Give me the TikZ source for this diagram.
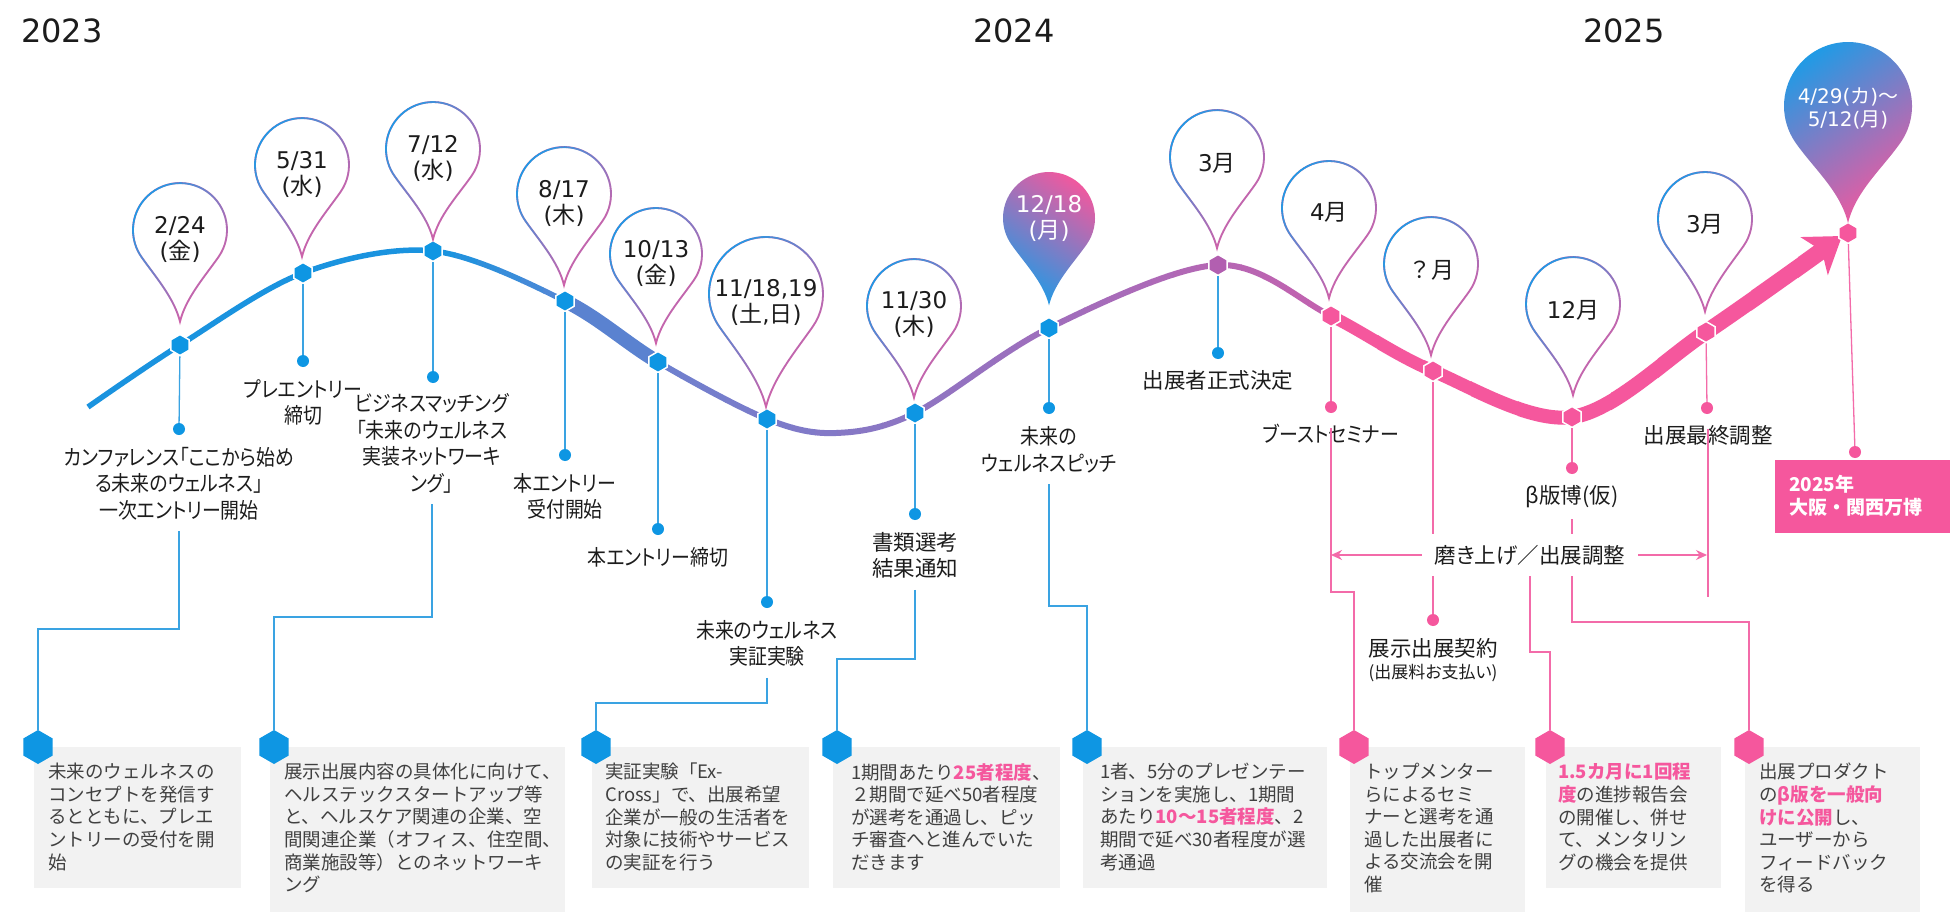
\documentclass[tikz,border=0pt]{standalone}
\usepackage{fontspec}
\setmainfont{Noto Sans CJK JP}
\newfontfamily\jp{Noto Sans CJK JP}
\newfontfamily\jpp[RawFeature=+palt]{Noto Sans CJK JP}
\newfontfamily\jpk[RawFeature=+palt, FakeStretch=0.88]{Noto Sans CJK JP}
\newfontfamily\dv{DejaVu Sans}
\usetikzlibrary{arrows.meta,shapes.geometric,fadings}

\definecolor{cA}{HTML}{1A93DF}
\definecolor{cB}{HTML}{4E88D6}
\definecolor{cC}{HTML}{5A82D0}
\definecolor{cD}{HTML}{6F80CE}
\definecolor{cE}{HTML}{C262AF}
\definecolor{cblue}{HTML}{0E96E3}
\definecolor{lblue}{HTML}{3AA3E2}
\definecolor{cpink}{HTML}{F5579D}
\definecolor{lpink}{HTML}{F36BA9}
\definecolor{cpurp}{HTML}{B25FB0}
\definecolor{boxgray}{HTML}{F2F2F2}
\definecolor{boxtext}{HTML}{404040}
\definecolor{labcol}{HTML}{1C1C1C}
\definecolor{pblue}{HTML}{1E9BE6}
\definecolor{ppink}{HTML}{F0589F}
\definecolor{fbA}{HTML}{1E9BE6}
\definecolor{fbM}{HTML}{B585CC}
\definecolor{fbD}{HTML}{F5579D}
\definecolor{fpA}{HTML}{F5579D}
\definecolor{fpM}{HTML}{A486D4}
\definecolor{fpC}{HTML}{1E9BE6}

\tikzfading[name=pinfade, top color=transparent!0, middle color=transparent!60, bottom color=transparent!100]

\newcommand\pinpath[2]{(0,{-#2*#1}) .. controls ({0.12*#1},{-(#2-0.5)*#1}) and ({0.532*#1},{-0.983*#1}) .. ({0.819*#1},{-0.574*#1}) arc[start angle=-35,end angle=215,radius=#1] .. controls ({-0.532*#1},{-0.983*#1}) and ({-0.12*#1},{-(#2-0.5)*#1}) .. (0,{-#2*#1}) -- cycle}
\newcommand\pinout[4]{%
 \begin{scope}[shift={(#1,#2)}]
  \draw[ppink, line width=1.8pt] \pinpath{#3}{#4};
  \draw[pblue, line width=1.8pt, path fading=pinfade, fading angle=45] \pinpath{#3}{#4};
 \end{scope}}
\newcommand\curvepath{plot[smooth,tension=0.55] coordinates {(88,-407) (180,-345) (303,-273) (433,-251) (565,-301) (658,-362) (767,-419) (836,-433) (915,-413) (1049,-328) (1218,-265) (1331,-316) (1433,-371) (1572,-417) (1706,-332) (1842,-236)}}
\newcommand\dd[2]{{\dv #1}\\{\dv(}#2{\dv)}}
\newcommand\hl[1]{{\bfseries\color{cpink}#1}}
\newcommand\expofont{\jp\bfseries\fontsize{19}{23}\selectfont}

\tikzset{
 hexs/.style={regular polygon, regular polygon sides=6, shape border rotate=30, minimum size=21pt, inner sep=0pt, draw=white, line width=1.5pt},
 hexb/.style={regular polygon, regular polygon sides=6, shape border rotate=30, minimum size=34pt, inner sep=0pt},
 dotn/.style={circle, minimum size=12pt, inner sep=0pt},
 lab/.style={font={\jpp\fontsize{21.5}{26.5}\selectfont}, align=center, inner xsep=2pt, inner ysep=11pt, text=labcol},
 labk/.style={lab, font={\jpk\fontsize{21.5}{26.5}\selectfont}},
 vlb/.style={lblue, line width=1.3pt},
 vlp/.style={lpink, line width=1.3pt},
 boxbg/.style={fill=boxgray, anchor=north west, inner sep=0pt},
 boxt/.style={font={\jp\fontsize{18.5}{22.6}\selectfont}, text=boxtext, align=left, anchor=north west, inner sep=0pt},
 pint/.style={align=center, inner sep=0pt, font={\fontsize{23}{26}\selectfont}, text=labcol},
 yr/.style={anchor=base west, font={\dv\fontsize{32}{38}\selectfont}, text=labcol, inner sep=0pt},
}

\begin{document}
\begin{tikzpicture}[x=1pt,y=1pt]
\useasboundingbox (0,0) rectangle (1950,-912);
\fill[white] (0,0) rectangle (1950,-912);

% years
\node[yr] (y23) at (21,-43) {2023};
\node[yr] (y24) at (973,-43) {2024};
\node[yr] (y25) at (1583,-43) {2025};

% ---------- curve ----------
\begin{scope}\clip (80,-150) rectangle (434,-520); \draw[line width=5.5pt, cA] \curvepath; \end{scope}
\foreach \i in {0,...,5}{
 \pgfmathsetmacro\sxa{433+\i*22}
 \pgfmathsetmacro\sxb{\sxa+22.6}
 \pgfmathsetmacro\spp{100-\i*20}
 \begin{scope}\clip (\sxa,-150) rectangle (\sxb,-520); \draw[line width=5.5pt, cA!\spp!cB] \curvepath; \end{scope}
}
\begin{scope}\clip (565,-150) rectangle (658,-520); \draw[line width=14pt, cC] \curvepath; \end{scope}
\foreach \i in {0,...,29}{
 \pgfmathsetmacro\sxa{658+\i*22.43}
 \pgfmathsetmacro\sxb{\sxa+23}
 \pgfmathsetmacro\spp{100-\i*100/29}
 \begin{scope}\clip (\sxa,-150) rectangle (\sxb,-520); \draw[line width=6pt, cD!\spp!cE] \curvepath; \end{scope}
}
\foreach \i in {0,...,9}{
 \pgfmathsetmacro\sxa{1331+\i*46.7}
 \pgfmathsetmacro\sxb{\sxa+47.5}
 \pgfmathsetmacro\sw{12+0.5*\i}
 \begin{scope}\clip (\sxa,-150) rectangle (\sxb,-520); \draw[line width=\sw pt, cpink] \curvepath; \end{scope}
}
\begin{scope}\clip (1798,-150) rectangle (1900,-330);
 \draw[line width=17pt, cpink, -{Stealth[length=34pt, width=46pt, inset=9pt]}] \curvepath;
\end{scope}

% ---------- curve hexagons ----------
\node[hexs, fill=cblue] (h1) at (180,-345) {};
\node[hexs, fill=cblue] (h2) at (303,-273) {};
\node[hexs, fill=cblue] (h3) at (433,-251) {};
\node[hexs, fill=cblue] (h4) at (565,-301) {};
\node[hexs, fill=cblue] (h5) at (658,-362) {};
\node[hexs, fill=cblue] (h6) at (767,-419) {};
\node[hexs, fill=cblue] (h7) at (915,-413) {};
\node[hexs, fill=cblue] (h8) at (1049,-328) {};
\node[hexs, fill=cpurp] (h9) at (1218,-265) {};
\node[hexs, fill=cpink] (h10) at (1331,-316) {};
\node[hexs, fill=cpink] (h11) at (1433,-371) {};
\node[hexs, fill=cpink] (h12) at (1572,-417) {};
\node[hexs, fill=cpink] (h13) at (1706,-332) {};
\node[hexs, fill=cpink] (h14) at (1848,-233) {};

% ---------- dots ----------
\node[dotn, fill=cblue] (d1) at (179,-429) {};
\node[dotn, fill=cblue] (d2) at (303,-361) {};
\node[dotn, fill=cblue] (d3) at (433,-377) {};
\node[dotn, fill=cblue] (d4) at (565,-455) {};
\node[dotn, fill=cblue] (d5) at (658,-529) {};
\node[dotn, fill=cblue] (d6) at (767,-602) {};
\node[dotn, fill=cblue] (d7) at (915,-514) {};
\node[dotn, fill=cblue] (d8) at (1049,-408) {};
\node[dotn, fill=cblue] (d9) at (1218,-353) {};
\node[dotn, fill=cpink] (d10) at (1331,-407) {};
\node[dotn, fill=cpink] (d11) at (1433,-620) {};
\node[dotn, fill=cpink] (d12) at (1572,-468) {};
\node[dotn, fill=cpink] (d13) at (1707,-408) {};
\node[dotn, fill=cpink] (d14) at (1855,-452) {};

\foreach \k in {1,...,9}{\draw[vlb] (h\k) -- (d\k);}
\foreach \k in {10,...,14}{\draw[vlp] (h\k) -- (d\k);}

% ---------- labels ----------
\node[labk] (lab1) at (179,-483.5) {カンファレンス「ここから始め\\る未来のウェルネス」\\一次エントリー開始};
\node[labk] (lab2) at (303,-402.5) {プレエントリー\\締切};
\node[labk] (lab3) at (432,-443.5) {ビジネスマッチング\\「未来のウェルネス\\実装ネットワーキ\\ング」};
\node[labk] (lab4) at (565,-496.5) {本エントリー\\受付開始};
\node[labk] (lab5) at (658,-557) {本エントリー締切};
\node[labk] (lab6) at (767,-643.5) {未来のウェルネス\\実証実験};
\node[lab] (lab7) at (915,-555.5) {書類選考\\結果通知};
\node[labk] (lab8) at (1049,-450) {未来の\\ウェルネスピッチ};
\node[lab] (lab9) at (1218,-380) {出展者正式決定};
\node[labk] (lab10) at (1331,-434) {ブーストセミナー};
\node[lab] (lab11) at (1433,-648) {展示出展契約};
\node[lab, font={\jpp\fontsize{17}{20}\selectfont}] (lab11b) at (1433,-673) {(出展料お支払い)};
\node[lab] (lab12) at (1572,-497) {β版博(仮)};
\node[lab] (lab13) at (1708,-435) {出展最終調整};

% ---------- boxes ----------
\node[boxbg, minimum width=207pt, minimum height=141pt] (b1) at (34,-747) {};
\node[boxbg, minimum width=295pt, minimum height=165pt] (b2) at (270,-747) {};
\node[boxbg, minimum width=217pt, minimum height=141pt] (b3) at (592,-747) {};
\node[boxbg, minimum width=227pt, minimum height=141pt] (b4) at (833,-747) {};
\node[boxbg, minimum width=244pt, minimum height=141pt] (b5) at (1083,-747) {};
\node[boxbg, minimum width=175pt, minimum height=165pt] (b6) at (1350,-747) {};
\node[boxbg, minimum width=175pt, minimum height=141pt] (b7) at (1546,-747) {};
\node[boxbg, minimum width=175pt, minimum height=165pt] (b8) at (1745,-747) {};

\node[hexb, fill=cblue] (bh1) at (38,-747) {};
\node[hexb, fill=cblue] (bh2) at (274,-747) {};
\node[hexb, fill=cblue] (bh3) at (596,-747) {};
\node[hexb, fill=cblue] (bh4) at (837,-747) {};
\node[hexb, fill=cblue] (bh5) at (1087,-747) {};
\node[hexb, fill=cpink] (bh6) at (1354,-747) {};
\node[hexb, fill=cpink] (bh7) at (1550,-747) {};
\node[hexb, fill=cpink] (bh8) at (1749,-747) {};

\node[boxt] (bt1) at (48,-763) {未来のウェルネスの\\コンセプトを発信す\\るとともに、プレエ\\ントリーの受付を開\\始};
\node[boxt] (bt2) at (284,-763) {展示出展内容の具体化に向けて、\\ヘルステックスタートアップ等\\と、ヘルスケア関連の企業、空\\間関連企業（オフィス、住空間、\\商業施設等）とのネットワーキ\\ング};
\node[boxt] (bt3) at (605,-763) {実証実験「Ex-\\Cross」で、出展希望\\企業が一般の生活者を\\対象に技術やサービス\\の実証を行う};
\node[boxt] (bt4) at (851,-763) {1期間あたり\hl{25者程度}、\\２期間で延べ50者程度\\が選考を通過し、ピッ\\チ審査へと進んでいた\\だきます};
\node[boxt] (bt5) at (1100,-763) {1者、5分のプレゼンテー\\ションを実施し、1期間\\あたり\hl{10～15者程度}、2\\期間で延べ30者程度が選\\考通過};
\node[boxt] (bt6) at (1364,-763) {トップメンター\\らによるセミ\\ナーと選考を通\\過した出展者に\\よる交流会を開\\催};
\node[boxt] (bt7) at (1558,-763) {\hl{1.5カ月に1回程}\\\hl{度}の進捗報告会\\の開催し、併せ\\て、メンタリン\\グの機会を提供};
\node[boxt] (bt8) at (1759,-763) {出展プロダクト\\の\hl{β版を一般向}\\\hl{けに公開}し、\\ユーザーから\\フィードバック\\を得る};

% ---------- connectors ----------
\coordinate (k1) at (38,-629);
\coordinate (k2) at (274,-617);
\coordinate (k3) at (596,-703);
\coordinate (k4) at (837,-659);
\coordinate (k5) at (1087,-606);
\coordinate (k6) at (1354,-592);
\coordinate (k7) at (1550,-652);
\coordinate (k8) at (1749,-622);
\coordinate (e13) at (1708,-597);
\draw[vlb] (lab1.south) |- (k1) -- (bh1.north);
\draw[vlb] (lab3.south) |- (k2) -- (bh2.north);
\draw[vlb] (lab6.south) |- (k3) -- (bh3.north);
\draw[vlb] (lab7.south) |- (k4) -- (bh4.north);
\draw[vlb] (lab8.south) |- (k5) -- (bh5.north);
\draw[vlp] ([yshift=6pt]lab10.center) |- (k6) -- (bh6.north);
\draw[vlp] (lab12.south) |- (k8) -- (bh8.north);
\draw[vlp] ([yshift=6pt]lab13.center) -- (e13);
\coordinate (a1) at (1331,-555);
\coordinate (a2) at (1707,-555);
\draw[vlp, {Stealth[length=11pt,width=10pt]}-{Stealth[length=11pt,width=10pt]}] (a1) -- (a2);
\node[lab, fill=white, inner xsep=13pt, inner ysep=11pt] (lab14) at (1530,-555) {磨き上げ／出展調整};
\draw[vlp] (lab14.south) |- (k7) -- (bh7.north);

% ---------- final box ----------
\node[fill=cpink, anchor=north west, minimum width=180pt, minimum height=73pt, inner sep=0pt] (expo) at (1775,-460) {};
\node[anchor=north west, inner sep=0pt, text=white, font=\expofont] (expot1) at (1789,-475) {\expofont 2025年};
\node[anchor=north west, inner sep=0pt, text=white, font=\expofont] (expot2) at (1789,-498) {\expofont 大阪・関西万博};

% ---------- pins ----------
\pinout{180}{-230}{47}{1.95}
\pinout{302}{-165}{47}{1.95}
\pinout{433}{-149}{47}{1.92}
\pinout{564}{-194}{47}{1.94}
\pinout{656}{-254}{46}{1.94}
\pinout{766}{-294}{57}{1.98}
\pinout{914}{-306}{47}{1.95}
\pinout{1217}{-157}{47}{1.94}
\pinout{1329}{-208}{47}{1.92}
\pinout{1431}{-264}{47}{1.94}
\pinout{1573}{-304}{47}{1.94}
\pinout{1705}{-219}{47}{1.97}
\begin{scope}[shift={(1049,-218)}]
 \shade[top color=fpA, middle color=fpM, bottom color=fpC, shading angle=-35] \pinpath{46}{1.9};
\end{scope}
\begin{scope}[shift={(1848,-106)}]
 \shade[top color=fbA, middle color=fbM, bottom color=fbD, shading angle=35] \pinpath{64}{1.83};
\end{scope}

\node[pint] (pt1) at (180,-239) {\dd{2/24}{金}};
\node[pint] (pt2) at (302,-174) {\dd{5/31}{水}};
\node[pint] (pt3) at (433,-158) {\dd{7/12}{水}};
\node[pint] (pt4) at (564,-203) {\dd{8/17}{木}};
\node[pint] (pt5) at (656,-263) {\dd{10/13}{金}};
\node[pint] (pt6) at (766,-302) {{\dv 11/18,19}\\{\dv(}土{\dv,}日{\dv)}};
\node[pint] (pt7) at (914,-314) {\dd{11/30}{木}};
\node[pint, text=white] (pt8) at (1049,-218) {\dd{12/18}{月}};
\node[pint] (pt9) at (1217,-163) {{\dv 3}月};
\node[pint] (pt10) at (1329,-212) {{\dv 4}月};
\node[pint] (pt11) at (1431,-270) {？月};
\node[pint] (pt12) at (1573,-310) {{\dv 12}月};
\node[pint] (pt13) at (1705,-224) {{\dv 3}月};
\node[pint, text=white, font={\fontsize{20}{23}\selectfont}] (pt14) at (1848,-108) {{\dv 4/29(}カ{\dv )}〜\\{\dv 5/12(}月{\dv )}};
\end{tikzpicture}
\end{document}
